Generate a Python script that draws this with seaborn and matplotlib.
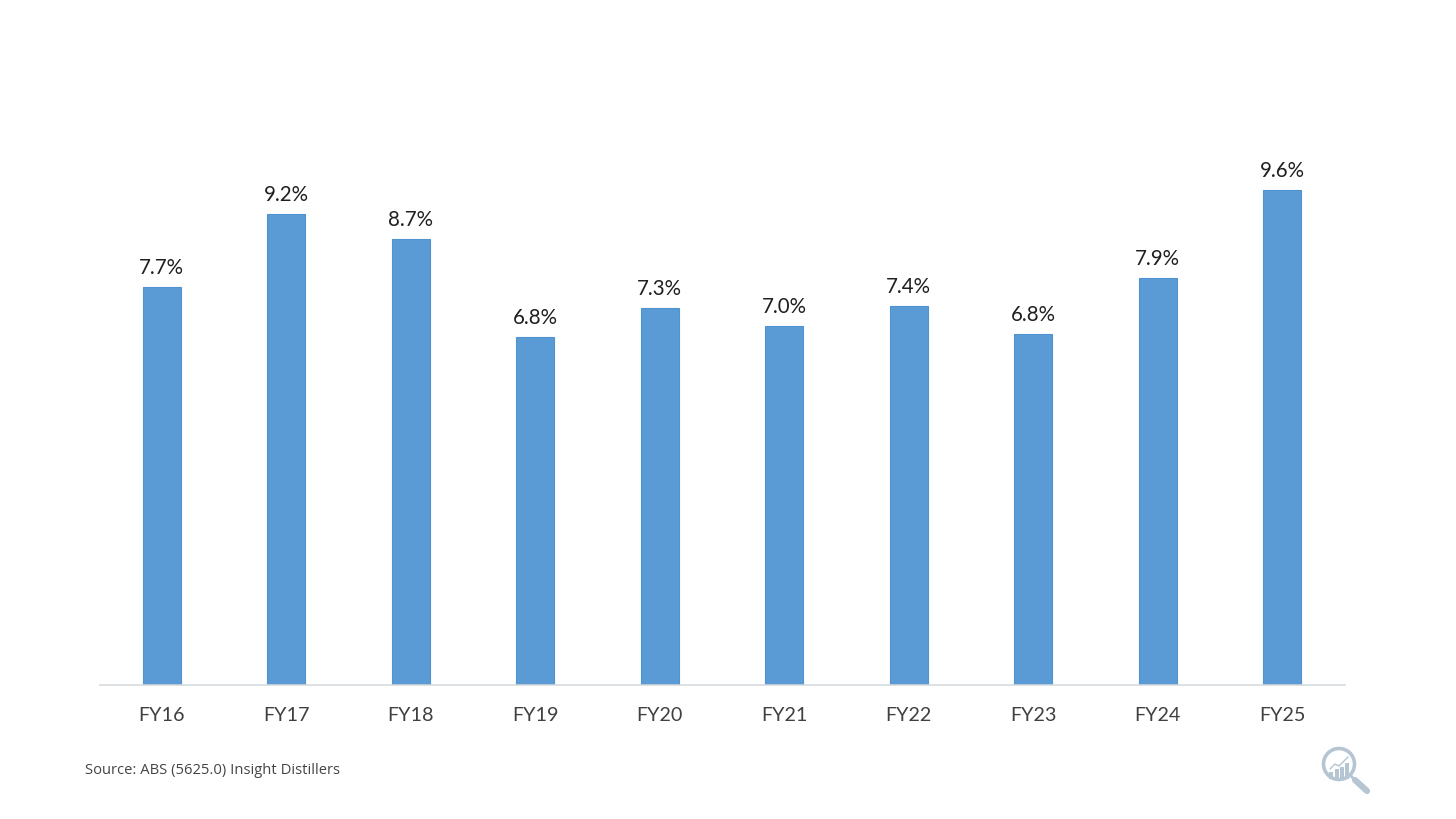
import matplotlib
matplotlib.use("Agg")
import matplotlib.pyplot as plt
from matplotlib.patches import Circle, Rectangle
from matplotlib.lines import Line2D
import seaborn as sns
import pandas as pd

years = ["FY16", "FY17", "FY18", "FY19", "FY20", "FY21", "FY22", "FY23", "FY24", "FY25"]
values = [7.74, 9.18, 8.68, 6.77, 7.34, 6.98, 7.37, 6.84, 7.92, 9.64]
source = "Source: ABS (5625.0) Insight Distillers"

W, H = 1456, 819
sns.set_theme(style="white")
plt.rcParams["font.family"] = ["Lato", "DejaVu Sans"]

fig = plt.figure(figsize=(W / 100, H / 100), dpi=100, facecolor="white")
base = 684.5
ymax = 12
px_per_unit = 51.3
top = base - ymax * px_per_unit
ax = fig.add_axes([99.5 / W, 1 - base / H, 1245 / W, (base - top) / H])

df = pd.DataFrame({"year": years, "value": values})
sns.barplot(data=df, x="year", y="value", color="#5B9BD5", saturation=1, width=0.305,
            edgecolor="#4F93D0", linewidth=0.8, ax=ax)
ax.set_ylim(0, ymax)
ax.set_xlim(-0.5, 9.5)
ax.set_xlabel("")
ax.set_ylabel("")
ax.set_yticks([])
sns.despine(ax=ax, left=True)
ax.spines["bottom"].set_color("#D5D8DC")
ax.spines["bottom"].set_linewidth(1.1)
ax.tick_params(axis="x", length=0, pad=16.2, labelsize=14.2, labelcolor="#404040")
for x, v in enumerate(values):
    ax.annotate(f"{v:.1f}%", (x, v), xytext=(0, 6.5), textcoords="offset points",
                ha="center", va="bottom", fontsize=14.8, color="#1F1F1F")

fig.text(85 / W, 1 - 770 / H, source, fontsize=10.6, color="#444444", va="center",
         family=["Open Sans", "DejaVu Sans"])

# logo, drawn in a pixel-coordinate overlay
ov = fig.add_axes([0, 0, 1, 1], facecolor="none")
ov.set_xlim(0, W)
ov.set_ylim(H, 0)
ov.axis("off")
logo = "#B5C5D3"
ov.add_patch(Circle((1339, 764), 15.5, fill=False, ec=logo, lw=2.6))
ov.add_line(Line2D([1351, 1355], [776, 780], color=logo, lw=2))
ov.add_line(Line2D([1355, 1367], [780, 791], color=logo, lw=4.5, solid_capstyle="round"))
for bx, bt in [(1329, 772), (1335, 769), (1340, 767), (1345, 763)]:
    ov.add_patch(Rectangle((bx, bt), 3.5, 779 - bt, color=logo, lw=0))
ov.add_line(Line2D([1330, 1335, 1339, 1348], [769, 764, 766, 757], color=logo, lw=1.0))

fig.savefig("out.png", dpi=100, facecolor="white")
